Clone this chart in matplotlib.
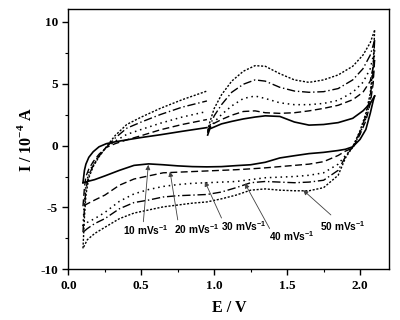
import matplotlib
matplotlib.use("Agg")
import matplotlib.pyplot as plt
from matplotlib.ticker import MultipleLocator

plt.rcParams['mathtext.fontset'] = 'custom'
plt.rcParams['mathtext.bf'] = 'Liberation Serif:bold'
plt.rcParams['mathtext.sf'] = 'Liberation Sans:bold'
plt.rcParams['axes.unicode_minus'] = False

# anodic sweep, part 1 (0.1 -> 0.95 V)
e_up1 = [0.10, 0.11, 0.12, 0.14, 0.17, 0.21, 0.26, 0.32, 0.40, 0.50, 0.63, 0.78, 0.95]
i_up1_10 = [-3.0, -2.0, -1.5, -0.95, -0.5, -0.1, 0.15, 0.3, 0.46, 0.65, 0.87, 1.15, 1.45]
i_up1_20 = [-4.9, -3.4, -2.5, -1.9, -1.3, -0.7, -0.15, 0.15, 0.46, 0.8, 1.27, 1.7, 2.1]
i_up1_30 = [-6.5, -4.5, -3.2, -2.2, -1.5, -0.8, -0.15, 0.35, 0.9, 1.3, 1.8, 2.3, 2.75]
i_up1_40 = [-7.0, -5.0, -3.5, -2.4, -1.6, -0.85, -0.15, 0.6, 1.4, 1.9, 2.5, 3.1, 3.6]
i_up1_50 = [-8.3, -5.8, -4.0, -2.6, -1.7, -0.9, -0.1, 0.8, 1.7, 2.3, 3.0, 3.7, 4.4]

# anodic sweep, part 2 (0.95 -> 2.1 V)
e_up2 = [0.955, 0.97, 1.00, 1.05, 1.12, 1.20, 1.28, 1.35, 1.45, 1.55, 1.65, 1.75, 1.85, 1.95, 2.02, 2.07, 2.10]
i_up2_10 = [0.85, 1.35, 1.5, 1.75, 1.95, 2.15, 2.3, 2.4, 2.35, 1.9, 1.65, 1.7, 1.85, 2.2, 2.8, 3.4, 4.0]
i_up2_20 = [1.1, 1.5, 1.8, 2.1, 2.45, 2.75, 2.8, 2.65, 2.6, 2.65, 2.8, 3.0, 3.25, 3.7, 4.3, 5.2, 6.9]
i_up2_30 = [1.0, 1.4, 1.9, 2.5, 3.2, 3.8, 4.0, 3.8, 3.45, 3.3, 3.3, 3.4, 3.65, 4.3, 5.1, 6.2, 7.7]
i_up2_40 = [1.1, 1.6, 2.4, 3.3, 4.3, 4.95, 5.3, 5.2, 4.7, 4.4, 4.3, 4.35, 4.6, 5.3, 6.2, 7.3, 8.5]
i_up2_50 = [1.2, 1.9, 3.0, 4.1, 5.2, 6.0, 6.45, 6.4, 5.8, 5.3, 5.1, 5.3, 5.7, 6.4, 7.3, 8.3, 9.3]

# cathodic sweep (2.1 -> 0.1 V)
e_down = [2.10, 2.09, 2.07, 2.04, 2.00, 1.95, 1.90, 1.85, 1.75, 1.65, 1.55, 1.45, 1.35, 1.25,
          1.15, 1.05, 0.95, 0.85, 0.75, 0.65, 0.55, 0.45, 0.35, 0.25, 0.18, 0.13, 0.10]
i_down_10 = [4.0, 3.6, 2.6, 1.3, 0.5, -0.1, -0.3, -0.4, -0.55, -0.65, -0.82, -1.0, -1.35, -1.55,
             -1.62, -1.7, -1.72, -1.7, -1.64, -1.55, -1.48, -1.6, -2.0, -2.45, -2.75, -2.9, -3.0]
i_down_20 = [6.9, 5.0, 3.4, 2.0, 0.9, -0.2, -0.45, -0.8, -1.3, -1.5, -1.6, -1.7, -1.8, -1.88,
             -1.95, -2.0, -2.05, -2.1, -2.15, -2.2, -2.45, -2.7, -3.2, -4.0, -4.4, -4.7, -4.9]
i_down_30 = [7.7, 5.5, 3.6, 2.2, 1.0, -0.15, -0.8, -1.5, -2.2, -2.4, -2.5, -2.55, -2.6, -2.75,
             -2.9, -2.95, -3.0, -3.05, -3.15, -3.3, -3.55, -3.9, -4.5, -5.4, -5.9, -6.2, -6.5]
i_down_40 = [8.5, 6.0, 3.9, 2.4, 1.1, -0.1, -0.9, -2.0, -2.8, -2.95, -3.0, -2.95, -2.9, -3.0,
             -3.4, -3.75, -3.95, -4.0, -4.05, -4.15, -4.4, -4.6, -5.1, -5.9, -6.3, -6.7, -7.0]
i_down_50 = [9.3, 6.5, 4.2, 2.6, 1.2, -0.1, -1.0, -2.4, -3.4, -3.65, -3.65, -3.6, -3.5, -3.6,
             -4.0, -4.3, -4.55, -4.65, -4.8, -4.95, -5.2, -5.45, -5.9, -6.6, -7.1, -7.6, -8.3]

rates = ["10", "20", "30", "40", "50"]
label_pos = [(0.53, -6.85), (0.88, -6.75), (1.20, -6.5), (1.53, -7.3), (1.88, -6.5)]
arrow_tail = [(0.514, -6.15), (0.75, -6.0), (1.05, -5.85), (1.38, -6.7), (1.80, -5.6)]
arrow_tip = [(0.548, -1.56), (0.697, -2.1), (0.936, -2.9), (1.21, -3.05), (1.61, -3.6)]

styles = ['-', (0, (5, 2.5)), (0, (1, 2.5)), (0, (6, 2, 1, 2)), (0, (1.5, 1.2))]
widths = [1.2, 1.0, 1.1, 1.0, 1.0]

fig = plt.figure(figsize=(4, 3.2), dpi=100)
ax = fig.add_axes([0.171, 0.158, 0.802, 0.813])

up1 = [i_up1_10, i_up1_20, i_up1_30, i_up1_40, i_up1_50]
up2 = [i_up2_10, i_up2_20, i_up2_30, i_up2_40, i_up2_50]
down = [i_down_10, i_down_20, i_down_30, i_down_40, i_down_50]

for k in range(5):
    ls = styles[k]
    lw = widths[k]
    ax.plot(e_up1, up1[k], color='black', linestyle=ls, linewidth=lw)
    ax.plot(e_up2, up2[k], color='black', linestyle=ls, linewidth=lw)
    ax.plot(e_down, down[k], color='black', linestyle=ls, linewidth=lw)

# labels with arrows
for k in range(5):
    ax.text(label_pos[k][0], label_pos[k][1], rates[k] + r" mVs$^{\mathsf{-1}}$",
            ha='center', va='center', fontsize=7.3, fontweight='bold', family='Liberation Sans')
    ax.annotate('', xy=arrow_tip[k], xytext=arrow_tail[k],
                arrowprops=dict(arrowstyle='-|>', color='0.25', lw=0.6,
                                mutation_scale=7, shrinkA=0, shrinkB=0))

ax.set_xlim(0, 2.2)
ax.set_ylim(-10, 11)
ax.xaxis.set_major_locator(MultipleLocator(0.5))
ax.xaxis.set_minor_locator(MultipleLocator(0.25))
ax.yaxis.set_major_locator(MultipleLocator(5))
ax.yaxis.set_minor_locator(MultipleLocator(2.5))
ax.tick_params(which='major', direction='out', length=4, width=1)
ax.tick_params(which='minor', direction='out', length=2.5, width=0.8)
ax.tick_params(top=False, right=False)
for lab in ax.get_xticklabels() + ax.get_yticklabels():
    lab.set_family('Liberation Serif')
    lab.set_fontweight('bold')
    lab.set_fontsize(9.5)
for s in ax.spines.values():
    s.set_linewidth(1.0)

ax.set_xlabel("E / V", family='Liberation Serif', fontweight='bold', fontsize=11.5, labelpad=6)
ax.set_ylabel(r"I / 10$^{\mathbf{-4}}$ A", family='Liberation Serif', fontweight='bold',
              fontsize=11.5, labelpad=4)

fig.savefig("out.png", dpi=100)
